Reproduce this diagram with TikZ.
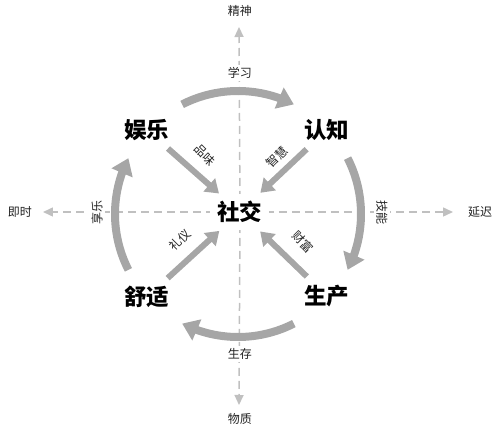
\documentclass[tikz,border=0pt]{standalone}
\usepackage{fontspec}
\setmainfont{Noto Sans CJK SC}
\usetikzlibrary{arrows.meta,bending,backgrounds}
\definecolor{arrowgray}{HTML}{A6A6A6}
\definecolor{axisgray}{HTML}{C0C0C0}
\definecolor{labelgray}{HTML}{222222}
\tikzset{
  big/.style={font=\fontsize{22.5}{22.5}\selectfont\bfseries, inner sep=2pt},
  small/.style={font=\fontsize{12}{12}\selectfont, text=labelgray, fill=white, inner sep=2pt},
  axis/.style={color=axisgray, line width=1.5pt, dash pattern=on 8pt off 5pt, -{Triangle[length=10pt,width=9pt]}},
  link/.style={draw=arrowgray, fill=arrowgray, line width=6pt, -{Triangle[length=13pt,width=17pt]}, shorten <=28pt, shorten >=28pt},
  roundarrow/.style={draw=arrowgray, fill=none, line width=8pt, -{Triangle[length=16pt,width=22pt,flex,fill=arrowgray]}}
}
\begin{document}
\begin{tikzpicture}[x=1pt,y=1pt]
  \useasboundingbox (-239,-221) rectangle (262,212);
  \node[big, fill=white, inner sep=7pt] (shejiao) at (1,0) {社交};
  \node[big] (yule) at (-92,82) {娱乐};
  \node[big] (renzhi) at (88,82) {认知};
  \node[big] (shushi) at (-92,-85) {舒适};
  \node[big] (shengchan) at (88,-84) {生产};
  \node[small] (jingshen) at (1,201) {精神};
  \node[small] (wuzhi) at (1,-207) {物质};
  \node[small] (jishi) at (-219,0) {即时};
  \node[small] (yanchi) at (241,0) {延迟};
  \coordinate (up) at (0,185);
  \coordinate (down) at (0,-193);
  \coordinate (left) at (-196,0);
  \coordinate (right) at (214,0);
  \coordinate (ring) at (-1,-2);
  \node[small] (xuexi) at (1,139) {学习};
  \node[small, rotate=-90] (jineng) at (143,-1) {技能};
  \node[small] (shengcun) at (1,-142) {生存};
  \node[small, rotate=90] (xiangle) at (-142,-1) {享乐};
  \node[small, fill=none, rotate=-45] (pinwei) at (-34,57) {品味};
  \node[small, fill=none, rotate=45] (zhihui) at (38,55) {智慧};
  \node[small, fill=none, rotate=45] (liyi) at (-59,-28) {礼仪};
  \node[small, fill=none, rotate=-45] (caifu) at (64,-30) {财富};
  \begin{scope}[on background layer]
    \draw[axis] (shejiao.center) -- (up);
    \draw[axis] (shejiao.center) -- (down);
    \draw[axis] (shejiao.center) -- (left);
    \draw[axis] (shejiao.center) -- (right);
  \end{scope}
  \draw[link] (yule.center) -- (shejiao.center);
  \draw[link] (renzhi.center) -- (shejiao.center);
  \draw[link] (shushi.center) -- (shejiao.center);
  \draw[link] (shengchan.center) -- (shejiao.center);
  \draw[roundarrow] ([shift={(117:123)}]ring) arc[start angle=117, end angle=63, radius=123];
  \draw[roundarrow] ([shift={(27:123)}]ring) arc[start angle=27, end angle=-27, radius=123];
  \draw[roundarrow] ([shift={(-63:123)}]ring) arc[start angle=-63, end angle=-117, radius=123];
  \draw[roundarrow] ([shift={(207:123)}]ring) arc[start angle=207, end angle=153, radius=123];
\end{tikzpicture}
\end{document}
